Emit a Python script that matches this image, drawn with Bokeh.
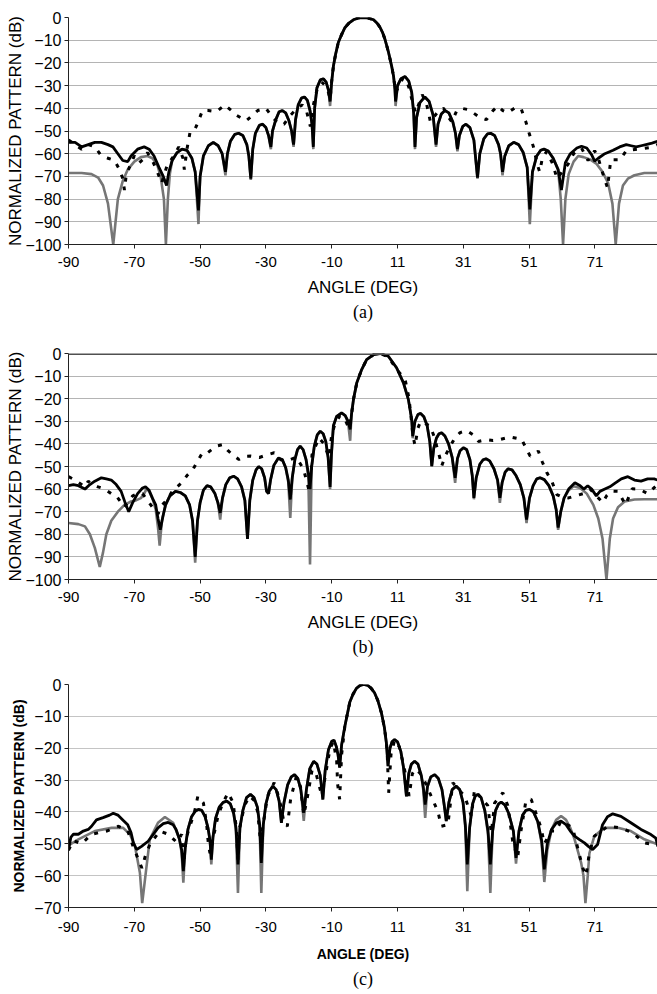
from bokeh.plotting import figure
from bokeh.models import Range1d, FixedTicker, Title, Span
from bokeh.layouts import column
from bokeh.embed import file_html
from bokeh.resources import INLINE

# ---------------- shared axis data ----------------
x_tick_pos = [-90, -70, -50, -30, -10, 10, 30, 50, 70]
x_tick_labels = ["-90", "-70", "-50", "-30", "-10", "11", "31", "51", "71"]
y_ticks_ab = [0, -10, -20, -30, -40, -50, -60, -70, -80, -90, -100]
y_ticks_c = [0, -10, -20, -30, -40, -50, -60, -70]
captions = ["(a)", "(b)", "(c)"]

# ---------------- panel (a) ----------------
a_black = [(-90,-55),(-88,-55),(-86,-57),(-84,-56),(-82,-55),(-80,-55),(-78,-56),(-76.5,-57),(-75,-60),(-73.5,-63),(-72,-63.5),(-71,-61),(-69,-58),(-67,-57),(-65.5,-58),(-64,-61),(-62.5,-66),(-61.2,-70),(-60.2,-74),
(-59.5,-68),(-58.5,-63),(-57,-59.5),(-55.5,-58),(-54,-58.5),(-52.5,-62),(-51.5,-68),(-50.5,-85),
(-50,-70),(-49,-61),(-47.5,-56.5),(-46,-55),(-44.5,-56.5),(-43.3,-60),(-42.3,-68),
(-41.7,-60),(-40.8,-54.5),(-39.5,-51.5),(-38.3,-51),(-37,-52),(-35.8,-56),(-35.2,-61),(-34.6,-71),
(-34,-58),(-33.2,-51),(-32,-47.5),(-31,-47),(-30,-48.5),(-29.2,-52),(-28.5,-57),
(-28,-50),(-27,-45),(-26,-41.5),(-25,-41),(-24,-42),(-23,-45.5),(-22.2,-50),(-21.6,-56),
(-21,-45),(-20.2,-38.5),(-19.2,-35.5),(-18.3,-35),(-17.4,-36.5),(-16.6,-41),(-16,-47),(-15.6,-57),
(-15.2,-40),(-14.5,-31),(-13.5,-27.5),(-12.5,-27),(-11.7,-28.5),(-11,-32),(-10.5,-37),
(-10,-28),(-9.5,-21.5),(-8.8,-16),(-8,-11),(-7,-7.5),(-6,-4.5),(-4.8,-2.5),(-3.4,-1),(-2,-0.2),(-0.5,0),(1,-0.2),(2.7,-1),(3.8,-2.5),(4.7,-4.4),(5.5,-6.8),(6.2,-9.7),(7.2,-15),(8.2,-21.4),(8.8,-26),(9.2,-31.6),(9.4,-37),
(10,-30),(11,-27),(12.3,-26),(13.4,-28),(14.3,-33),(14.9,-42),(15.3,-57),
(15.8,-44),(16.8,-37.5),(18.3,-35),(19.6,-37),(20.8,-43),(21.7,-56),
(22.3,-47),(23.3,-42.5),(24.4,-41),(25.6,-42),(26.8,-46),(27.6,-51),(28.2,-58),
(28.8,-52),(29.8,-48),(30.8,-47),(32,-48.5),(33.2,-54),(34.3,-70.5),
(35,-60),(36.2,-53.5),(37.3,-51.3),(38.3,-51),(39.5,-52),(40.7,-56),(41.3,-60),(41.9,-68),
(42.6,-61),(43.8,-56.5),(45.3,-55),(46.8,-56),(48.2,-59.5),(49.4,-66),(50.2,-84.5),
(51,-68),(52.3,-61),(53.5,-58.5),(54.5,-58),(55.8,-58.8),(57.3,-62),(58.8,-67),(59.8,-76),
(61,-64),(62.5,-60),(64.5,-57.5),(65.9,-56.7),(67.5,-57.5),(69,-60.5),(69.9,-63.3),(71,-62),(73,-60),(75.5,-58.5),(77.5,-57),(79.5,-56),(81,-56.5),(82.5,-57),(84,-56.5),(85.5,-56),(87,-55.5),(88,-55),(89,-54.5)]

a_gray = [(-90,-68.5),(-86,-68.5),(-83,-69),(-81,-70.5),(-79.5,-74),(-78,-82),(-76.4,-100),(-75,-80),(-73.5,-72),(-72,-67),(-70,-63.5),(-68,-61.5),(-66,-61),(-64.5,-62),(-63,-65),(-62,-70),(-61,-80),(-60.4,-100),(-59.8,-80),(-59.2,-69),
(-58.5,-63),(-57,-59.5),(-55.5,-58),(-54,-58.5),(-52.5,-62),(-51.5,-68),(-50.5,-91),
(-50,-70),(-49,-61),(-47.5,-56.5),(-46,-55),(-44.5,-56.5),(-43.3,-60),(-42.3,-69.5),
(-41.7,-60),(-40.8,-54.5),(-39.5,-51.5),(-38.3,-51),(-37,-52),(-35.8,-56),(-35.2,-61),(-34.6,-71.5),
(-34,-58),(-33.2,-51),(-32,-47.5),(-31,-47),(-30,-48.5),(-29.2,-52),(-28.5,-58),
(-28,-50),(-27,-45),(-26,-41.5),(-25,-41),(-24,-42),(-23,-45.5),(-22.2,-50),(-21.6,-57),
(-21,-45),(-20.2,-38.5),(-19.2,-35.5),(-18.3,-35),(-17.4,-36.5),(-16.6,-41),(-16,-47),(-15.6,-58),
(-15.2,-40),(-14.5,-31),(-13.5,-27.5),(-12.5,-27),(-11.7,-28.5),(-11,-32),(-10.5,-39),
(-10,-28),(-9.5,-21.5),(-8.8,-16),(-8,-11),(-7,-7.5),(-6,-4.5),(-4.8,-2.5),(-3.4,-1),(-2,-0.2),(-0.5,0),(1,-0.2),(2.7,-1),(3.8,-2.5),(4.7,-4.4),(5.5,-6.8),(6.2,-9.7),(7.2,-15),(8.2,-21.4),(8.8,-26),(9.2,-31.6),(9.4,-39),
(10,-30),(11,-27),(12.3,-26),(13.4,-28),(14.3,-33),(14.9,-42),(15.3,-58),
(15.8,-44),(16.8,-37.5),(18.3,-35),(19.6,-37),(20.8,-43),(21.7,-57),
(22.3,-47),(23.3,-42.5),(24.4,-41),(25.6,-42),(26.8,-46),(27.6,-51),(28.2,-59),
(28.8,-52),(29.8,-48),(30.8,-47),(32,-48.5),(33.2,-54),(34.3,-71),
(35,-60),(36.2,-53.5),(37.3,-51.3),(38.3,-51),(39.5,-52),(40.7,-56),(41.3,-60),(41.9,-69.5),
(42.6,-61),(43.8,-56.5),(45.3,-55),(46.8,-56),(48.2,-59.5),(49.4,-66),(50.2,-91),
(51,-68),(52.3,-61),(53.5,-58.5),(54.5,-58),(55.8,-58.8),(57.3,-62),(58.8,-67),(59.6,-80),(60.3,-100),(61,-80),(62,-69),(63.5,-63.5),(64.9,-61),(66.5,-61.5),(68.5,-62.5),(70.5,-64.5),(72.3,-68),(74,-73),(75.3,-82),(76.3,-100),(77.3,-82),(78.5,-74),(80,-71),(82,-69.5),(85,-68.5),(89,-68.5)]

a_dotted = [(-90,-54),(-88,-56),(-86,-58),(-84,-56),(-82,-57),(-80,-61),(-78,-62),(-76,-63),(-74.5,-67),(-73.5,-71),(-73,-76),(-72.5,-70),(-71.5,-66),(-70,-61),(-68.5,-64),(-67,-62),(-66,-59.5),(-64.5,-63),(-63,-68),(-61.7,-73),(-60,-65),(-58,-61),(-56.5,-57),(-55.2,-62),(-54.8,-67),(-54,-58),(-53,-50),(-51.5,-49),(-50.6,-46),(-49.3,-41),(-47.5,-41),(-45,-41.5),(-42.5,-38.5),(-40.5,-41),(-39,-43),(-36,-45.5),(-34,-43),(-32.5,-41),(-30,-40),(-28,-44),(-26,-47),(-24.5,-47),(-22.5,-43),(-20.5,-40),(-19,-38.5),(-17.7,-41),(-16.5,-48),(-15.5,-38),(-14.5,-32),(-13,-28.5),(-12,-30),(-11,-33),(-10.5,-36),
(-10,-28),(-9.5,-21.5),(-8.8,-16),(-8,-11),(-7,-7.5),(-6,-4.5),(-4.8,-2.5),(-3.4,-1),(-2,-0.2),(-0.5,0),(1,-0.2),(2.7,-1),(3.8,-2.5),(4.7,-4.4),(5.5,-6.8),(6.2,-9.7),(7.2,-15),(8.2,-21.4),(8.8,-26),(9.4,-33),
(10.5,-30),(11.5,-27),(12.5,-27),(13.5,-31),(14.5,-37),(15.5,-42),(16.5,-38),(17.5,-34),(18.8,-38),(20,-46),(21,-44),(22.5,-41),(24,-40),(25.5,-44),(26.5,-46),(28,-41),(29.5,-40),(31.2,-40.5),(33,-42),(35,-44),(37,-45),(39,-41),(40.5,-39),(42,-41),(43.5,-42),(45.5,-40),(47.5,-40),(49,-46),(50,-51),(51.3,-57),(52.5,-65),(53.2,-68),(54,-62),(55.3,-59),(57,-64),(58.5,-71),(60,-68),(61.8,-64.7),(63.5,-60),(65.9,-57.5),(67.9,-63),(69.9,-58.7),(71,-62),(72.3,-68.4),(73.8,-75),(74.8,-62.7),(77.5,-62.7),(79.5,-58.7),(83,-58),(87,-57.3),(89,-56)]

# ---------------- panel (b) ----------------
b_black = [(-90,-58.5),(-88.5,-58),(-87,-58.5),(-85,-60),(-83.5,-58),(-82,-56.5),(-80,-55),(-78.5,-55.5),(-77,-56),(-75.5,-58),(-74,-61),(-72.8,-66),(-71.7,-70),(-70.5,-66),(-69,-62),(-67.5,-59.5),(-66.6,-59),(-65.5,-60.5),(-64.5,-64),(-63.5,-67),(-62.8,-73),(-62.1,-78),
(-61.3,-72),(-60.5,-67),(-59.2,-63),(-57.5,-61),(-56,-61.5),(-54.5,-63),(-53.2,-67),(-52.3,-74),(-51.5,-90),
(-50.8,-74),(-50,-66),(-49,-60.5),(-47.9,-58.5),(-46.8,-59),(-45.5,-62),(-44.6,-66),(-43.9,-70.5),
(-43.2,-64),(-42.2,-58),(-41,-55),(-39.8,-54.3),(-38.6,-55.5),(-37.4,-59),(-36.4,-65),(-35.6,-82),
(-34.9,-65),(-34,-56),(-33,-51.5),(-32.2,-50),(-31.3,-51),(-30.4,-55),(-29.8,-61),(-29.2,-62),(-28.6,-56),(-27.6,-49.5),(-26.2,-46.2),(-25,-47),(-24,-50.5),(-23.2,-56),(-22.6,-64.6),
(-22,-55),(-21.2,-47),(-20.4,-42.5),(-19.6,-41),(-18.7,-42.5),(-17.8,-47),(-17.1,-53),(-16.6,-60),
(-16.1,-50),(-15.3,-41),(-14.4,-36),(-13.5,-34.4),(-12.6,-35.5),(-11.8,-39),(-11.1,-46),(-10.5,-59),
(-10.1,-45),(-9.5,-32),(-8.5,-27.8),(-7,-26.3),(-5.9,-27.5),(-5,-30),(-4.4,-33.6),
(-4,-27),(-3.4,-20.4),(-2.4,-13),(-0.9,-7.1),(0.6,-2.7),(2.7,-0.5),(4.7,0),(7.2,-1.2),(9.7,-6.3),(11.8,-13),(13.3,-20.4),(14.3,-29.2),(14.6,-36.6),
(15.3,-30),(16.2,-27),(17,-26.5),(18,-28),(19,-32),(19.8,-39),(20.4,-49.8),
(21,-42),(21.8,-37.5),(22.6,-35.5),(23.4,-35.1),(24.4,-36.5),(25.5,-40),(26.6,-46),(27.5,-55),
(28.2,-46.5),(29,-43),(30,-41.7),(31,-42.5),(32,-47),(32.7,-54),(33.2,-63.9),
(33.9,-55),(35,-49),(36,-47),(36.9,-46.6),(38,-47.5),(39.3,-51),(40.4,-56),(41.1,-63.9),
(41.8,-57),(42.7,-52.5),(43.6,-51),(44.8,-51.5),(46,-54),(47.3,-58),(48.4,-64),(49.2,-73.5),
(50.1,-64),(51.2,-58.5),(52.3,-55.5),(53.3,-55),(54.6,-55.8),(56,-58.5),(57.3,-63),(58.2,-69),(58.8,-77),
(59.6,-70),(60.6,-64),(62,-60),(63.9,-57.2),(65.5,-58.5),(66.6,-60),(67.8,-58.5),(69,-60),(70.4,-63),(71.5,-61),(73,-60),(74.5,-59),(76,-57.5),(78,-55.5),(80,-54.5),(82,-56),(84,-56.5),(86,-55.5),(88,-55.5),(89,-56)]

b_gray = [(-90,-75),(-87,-75.5),(-85,-76.5),(-83.5,-80),(-82,-86),(-80.5,-94.4),(-79.5,-88),(-78.5,-80),(-77,-74),(-75,-70),(-73,-67),(-71,-65.5),(-69.5,-65),(-68,-64),(-67,-62),(-66.3,-60),(-65.5,-61),(-64.5,-64),(-63.5,-69),(-62.8,-77),(-62.3,-85),
(-61.6,-74),(-60.5,-67),(-59.2,-63),(-57.5,-61),(-56,-61.5),(-54.5,-63),(-53.2,-67),(-52.3,-74),(-51.5,-92.6),
(-50.8,-74),(-50,-66),(-49,-60.5),(-47.9,-58.5),(-46.8,-59),(-45.5,-62),(-44.6,-66),(-43.9,-73.5),
(-43.2,-64),(-42.2,-58),(-41,-55),(-39.8,-54.3),(-38.6,-55.5),(-37.4,-59),(-36.4,-65),(-35.6,-82),
(-34.9,-65),(-34,-56),(-33,-51.5),(-32.2,-50),(-31.3,-51),(-30.4,-55),(-29.8,-61),(-29.2,-62),(-28.6,-56),(-27.6,-49.5),(-26.2,-46.2),(-25,-47),(-24,-50.5),(-23.2,-57),(-22.6,-72.8),
(-22,-55),(-21.2,-47),(-20.4,-42.5),(-19.6,-41),(-18.7,-42.5),(-17.8,-47),(-17.1,-55),(-16.6,-93.4),
(-16.1,-50),(-15.3,-41),(-14.4,-36),(-13.5,-34.4),(-12.6,-35.5),(-11.8,-39),(-11.1,-46),(-10.5,-60),
(-10.1,-45),(-9.5,-32),(-8.5,-27.8),(-7,-26.3),(-5.9,-27.5),(-5,-31),(-4.4,-38.6),
(-4,-27),(-3.4,-20.4),(-2.4,-13),(-0.9,-7.1),(0.6,-2.7),(2.7,-0.5),(4.7,0),(7.2,-1.2),(9.7,-6.3),(11.8,-13),(13.3,-20.4),(14.3,-29.2),(14.6,-37.5),
(15.3,-30),(16.2,-27),(17,-26.5),(18,-28),(19,-32),(19.8,-39),(20.4,-50),
(21,-42),(21.8,-37.5),(22.6,-35.5),(23.4,-35.1),(24.4,-36.5),(25.5,-40),(26.6,-46),(27.5,-57.2),
(28.2,-46.5),(29,-43),(30,-41.7),(31,-42.5),(32,-47),(32.7,-54),(33.2,-64.5),
(33.9,-55),(35,-49),(36,-47),(36.9,-46.6),(38,-47.5),(39.3,-51),(40.4,-56),(41.1,-66.1),
(41.8,-57),(42.7,-52.5),(43.6,-51),(44.8,-51.5),(46,-54),(47.3,-58),(48.4,-64),(49.2,-75),
(50.1,-64),(51.2,-58.5),(52.3,-55.5),(53.3,-55),(54.6,-55.8),(56,-58.5),(57.3,-63),(58.2,-69),(58.8,-78),
(59.6,-70),(60.6,-64),(62,-60.5),(63.5,-58.7),(65.5,-59.5),(67.5,-62),(69.5,-67),(71,-73),(72.3,-82),(73.5,-100),(74.5,-82),(75.5,-73),(77,-68),(79,-65.5),(82,-64.6),(85,-64.5),(89,-64.5)]

b_dotted = [(-90,-54.5),(-88,-56),(-86.5,-57.5),(-85,-59),(-84,-56.5),(-82.5,-58),(-81,-59),(-79,-60),(-77,-62),(-75.5,-63),(-74,-66),(-73,-68),(-72,-66),(-70.5,-63),(-69,-62),(-67.5,-62),(-66.5,-64),(-65,-67),(-63.5,-70),(-62.8,-71),(-61.5,-67),(-60,-64.6),(-58.5,-61),(-57,-59),(-55.5,-57),(-54,-54),(-52.3,-51.6),(-50.5,-46.9),(-49.3,-43.9),(-47.8,-44),(-46.5,-42.5),(-45.2,-41),(-43.2,-40.3),(-41.5,-43),(-40,-45),(-38.2,-46.9),(-36.5,-45.5),(-34.6,-45.4),(-32,-46),(-30,-45),(-27.5,-43.9),(-25.5,-47),(-23.5,-47.5),(-20.8,-45.9),(-18.6,-51),(-17,-60),(-16.2,-52),(-16,-44.8),(-13.9,-37.3),(-12.3,-40),(-10.9,-46),(-10,-36),(-9,-31),(-7.5,-27.5),(-6,-29),(-4.8,-33),
(-4,-27),(-3.4,-20.4),(-2.4,-13),(-0.9,-7.1),(0.6,-2.7),(2.7,-0.5),(4.7,0),(7.2,-1.5),(9.7,-7),(12.3,-11.5),(13.5,-20),(14.3,-31),(14.6,-35.6),(15.3,-40.8),(16.2,-33),(17,-30),(18.5,-31),(19.9,-32.1),(21.2,-37),(21.9,-41),(23,-47),(23.4,-49.8),(24.6,-45),(26,-41),(27.5,-37.2),(29,-35),(31,-34.1),(33,-36),(34.6,-38.9),(37.2,-38.1),(39,-38.5),(41.2,-38),(44.2,-36.9),(47.7,-38),(50.3,-45.4),(51.5,-44.5),(52.8,-43.2),(54,-48),(55.4,-52.8),(57,-57),(58.4,-62.4),(60,-63.5),(62,-63.9),(64,-63),(66.5,-62),(68.5,-60),(70.4,-63),(72.4,-66),(73.5,-63),(75,-60.9),(77,-61),(79.3,-66.9),(81.3,-59.9),(83.5,-60),(86,-62),(87.5,-60),(89,-58)]

# ---------------- panel (c) ----------------
c_black = [(-90,-52),(-89.3,-48),(-88.5,-47),(-87,-47),(-85.5,-46),(-84,-45.5),(-83,-44.5),(-81.5,-42.5),(-79.5,-41.8),(-77.5,-41),(-76.4,-40.4),(-75,-41),(-73.5,-42.5),(-72,-44),(-71,-46.5),(-70.3,-49.6),(-69.3,-51.8),(-67.8,-50.8),(-65.8,-49.2),(-64.3,-47.1),(-62.8,-45),(-61.2,-43.7),(-59.7,-43.3),(-58.2,-44),(-57.3,-45.5),(-56.3,-48.5),(-55.6,-52),(-55.1,-58.6),
(-54.5,-51),(-53.7,-45.5),(-52.6,-41.5),(-51.5,-39.8),(-50.5,-39.2),(-49.5,-39.5),(-48.5,-41.5),(-47.6,-45),(-47,-49),(-46.6,-55),
(-46.1,-48),(-45.3,-42),(-44.2,-38.5),(-43,-37),(-41.9,-36.6),(-40.8,-37.5),(-39.8,-40.5),(-39.1,-45),(-38.5,-56.5),
(-37.9,-45),(-37,-39.5),(-35.9,-35.5),(-34.7,-34.5),(-33.6,-35.5),(-32.6,-38.5),(-31.9,-44),(-31.4,-56),
(-30.8,-44),(-30,-37.5),(-29,-33.5),(-27.9,-31.9),(-26.9,-33),(-26,-36.5),(-25.3,-43.4),
(-24.5,-37),(-23.4,-31.5),(-22.3,-29),(-21.3,-28.3),(-20.3,-29.5),(-19.4,-33),(-18.5,-40.2),
(-17.7,-33),(-16.7,-26.5),(-15.5,-24.1),(-14.5,-25),(-13.5,-28.5),(-12.7,-36.1),
(-12,-27),(-11,-20.5),(-10,-17.8),(-9.3,-17.5),(-8.6,-19.5),(-8.1,-22),(-7.6,-26.1),
(-7,-19),(-6,-13),(-5,-8),(-4.5,-5.5),(-3.5,-3),(-2.5,-1.2),(-1.3,-0.2),(-0.3,0),(1,-0.3),(2,-1.2),(3,-2.6),(4,-5),(5.1,-8.9),(6,-13.5),(6.6,-18.3),(7.1,-25.6),
(7.7,-20),(8.3,-18),(9.1,-17.3),(10,-18),(11,-21),(11.8,-26),(12.7,-35.1),
(13.4,-28),(14.2,-25),(15.2,-24.1),(16.2,-25),(17.2,-28.5),(17.8,-32),(18.4,-37.7),
(19.1,-32),(20.1,-29),(21.3,-28.3),(22.4,-29.5),(23.5,-33),(24.2,-38),(24.8,-42.9),
(25.6,-37),(26.6,-33),(27.8,-31.9),(28.9,-33),(29.9,-37),(30.6,-44),(31.2,-56.5),
(31.9,-45),(32.8,-37.5),(33.6,-35),(34.4,-34.5),(35.4,-35.5),(36.5,-39.5),(37.5,-46),(38.2,-56.5),
(38.9,-46),(39.8,-39.5),(40.7,-37.5),(41.5,-36.9),(42.6,-37.8),(43.8,-40.5),(45.2,-46),(46,-54.4),
(46.9,-46),(48,-41),(49,-39.5),(50.1,-39.2),(51.3,-40),(52.6,-43),(53.8,-49),(54.6,-58),
(55.5,-50),(56.8,-45.5),(58.2,-43.5),(59.7,-42.9),(61.2,-44),(62.5,-46),(63.8,-47.6),(65.3,-48.7),(66.8,-49.7),(68,-50.8),(69.3,-51.8),(70.8,-50.2),(72.3,-44),(73.8,-41.5),(75.4,-40.6),(77.9,-41.4),(80.9,-43.4),(84,-45.5),(87,-47.1),(88.5,-48.2),(89.1,-50.8)]

c_gray = [(-90,-50.5),(-87,-48.6),(-82,-46),(-76.9,-45),(-73.4,-45),(-71.3,-47.1),(-69.8,-50.8),(-68.3,-59.1),(-67.6,-68.6),(-66.5,-59),(-65.3,-48.6),(-62.8,-43.4),(-60.7,-41.6),(-58.2,-43.4),(-56.3,-48.5),(-55.6,-53),(-55.1,-62.2),
(-54.5,-51),(-53.7,-45.5),(-52.6,-41.5),(-51.5,-39.8),(-50.5,-39.2),(-49.5,-39.5),(-48.5,-41.5),(-47.6,-45),(-47,-49),(-46.6,-56.5),
(-46.1,-48),(-45.3,-42),(-44.2,-38.5),(-43,-37),(-41.9,-36.6),(-40.8,-37.5),(-39.8,-40.5),(-39.1,-46),(-38.5,-65.4),
(-37.9,-45),(-37,-39.5),(-35.9,-35.5),(-34.7,-34.5),(-33.6,-35.5),(-32.6,-38.5),(-31.9,-45),(-31.4,-65.4),
(-30.8,-44),(-30,-37.5),(-29,-33.5),(-27.9,-31.9),(-26.9,-33),(-26,-36.5),(-25.3,-43.4),
(-24.5,-37),(-23.4,-31.5),(-22.3,-29),(-21.3,-28.3),(-20.3,-29.5),(-19.4,-33),(-18.5,-42.8),
(-17.7,-33),(-16.7,-26.5),(-15.5,-24.1),(-14.5,-25),(-13.5,-28.5),(-12.7,-36.1),
(-12,-27),(-11,-20.5),(-10,-17.8),(-9.3,-17.5),(-8.6,-19.5),(-8.1,-22),(-7.6,-26.1),
(-7,-19),(-6,-13),(-5,-8),(-4.5,-5.5),(-3.5,-3),(-2.5,-1.2),(-1.3,-0.2),(-0.3,0),(1,-0.3),(2,-1.2),(3,-2.6),(4,-5),(5.1,-8.9),(6,-13.5),(6.6,-18.3),(7.1,-25.6),
(7.7,-20),(8.3,-18),(9.1,-17.3),(10,-18),(11,-21),(11.8,-26),(12.7,-35.1),
(13.4,-28),(14.2,-25),(15.2,-24.1),(16.2,-25),(17.2,-28.5),(17.8,-33),(18.4,-41.9),
(19.1,-32),(20.1,-29),(21.3,-28.3),(22.4,-29.5),(23.5,-33),(24.2,-38),(24.8,-42.9),
(25.6,-37),(26.6,-33),(27.8,-31.9),(28.9,-33),(29.9,-37),(30.6,-45),(31.2,-64.9),
(31.9,-45),(32.8,-37.5),(33.6,-35),(34.4,-34.5),(35.4,-35.5),(36.5,-39.5),(37.5,-47),(38.2,-65.4),
(38.9,-46),(39.8,-39.5),(40.7,-37.5),(41.5,-36.9),(42.6,-37.8),(43.8,-40.5),(45.2,-46),(46,-56.2),
(46.9,-46),(48,-41),(49,-39.5),(50.1,-39.2),(51.3,-40),(52.6,-43),(53.8,-50),(54.6,-62),
(55.5,-52),(56.8,-45.5),(58.2,-42.5),(59.7,-41.3),(61.2,-42.5),(62.5,-45),(63.8,-48.6),(65.8,-56),(66.5,-60),(67.1,-68.6),(67.8,-60),(68.3,-53),(69.8,-47.6),(72.8,-45),(76.9,-45),(80.9,-46),(85,-48.6),(89.1,-50.2)]

c_dotted = [(-90,-52),(-88.5,-49),(-86,-50),(-83,-47),(-78.4,-46),(-74.8,-44.5),(-72,-46),(-70.3,-51),(-67.7,-57.6),(-66.7,-54),(-65.2,-50),(-62.2,-46),(-59.7,-47),(-57.1,-49.5),(-55.6,-47),(-55,-56),(-54.2,-48),(-51.7,-40),(-50.7,-35.1),(-49,-37.2),(-48,-44),(-47.5,-50),(-47,-53),(-46,-48),(-44.5,-41),(-43,-37),(-41.5,-34),(-40,-37),(-39,-45),(-38.5,-55),(-38,-45),(-36.5,-38),(-35,-35),(-33.5,-36.5),(-32.5,-40),(-31.6,-50),(-31,-45),(-29.5,-35),(-27.5,-30.8),(-26.5,-34),(-25.5,-38),(-24.5,-43.4),(-23.5,-44.5),(-22.5,-36),(-20.8,-29),(-19.5,-32),(-18.5,-41),(-17.5,-36),(-16,-27),(-15,-27),(-14,-31),(-13,-35),(-12,-29),(-10.5,-20),(-9.5,-18),(-8.5,-24),(-8.2,-31.4),(-7.6,-36),
(-7,-22),(-6,-13),(-5,-8),(-4.5,-5.5),(-3.5,-3),(-2.5,-1.2),(-1.3,-0.2),(-0.3,0),(1,-0.3),(2,-1.2),(3,-2.6),(4,-5),(5.1,-8.9),(6,-13.5),(6.8,-20),(7.3,-34),
(8,-22),(9.1,-17.5),(10.5,-19.5),(12,-26),(13,-31.4),(13.5,-35),(14.5,-28),(15.4,-26.5),(17,-28),(18.7,-31.4),(20.2,-35),(22.3,-40),(23.3,-44.5),(25.3,-44),(26.8,-30.8),(28.5,-33),(30.4,-35),(32.4,-41.3),(33.4,-33),(34.9,-35),(37.4,-38),(38.5,-46.6),(39.5,-37.2),(42,-34),(43.5,-38),(45,-49.2),(46.5,-54.4),(47.5,-46),(49,-36.6),(50.6,-36),(53.6,-45),(54.6,-50),(56.7,-46),(58.2,-46),(59.7,-42.8),(63.2,-45),(66.3,-57.6),(67.3,-60),(68.3,-52.8),(69.8,-47.6),(73.9,-44.5),(77.9,-45),(81.5,-46.6),(85,-49.7),(89,-50.5)]

AX_FONT = "Liberation Sans"
CAP_FONT = "Liberation Serif"


def make_panel(black, gray, dotted, y_min, y_ticks, caption, height, top, bottom,
               left, label_size, label_style, xlabel_size, tick_standoff,
               xlabel_standoff, cap_standoff, ylabel_standoff, top_line=None,
               grid_color="#b4b4b4"):
    p = figure(width=657, height=height, output_backend="svg",
               toolbar_location=None,
               x_range=Range1d(-90, 89), y_range=Range1d(y_min, 0),
               min_border_left=left, min_border_right=0,
               min_border_top=top, min_border_bottom=bottom)
    p.outline_line_color = None
    p.background_fill_color = "white"
    p.xgrid.grid_line_color = None
    p.ygrid.grid_line_color = grid_color
    p.ygrid.grid_line_width = 1
    p.ygrid.ticker = FixedTicker(ticks=y_ticks)

    p.xaxis.ticker = FixedTicker(ticks=x_tick_pos)
    p.xaxis.major_label_overrides = {pos: lab for pos, lab in zip(x_tick_pos, x_tick_labels)}
    p.yaxis.ticker = FixedTicker(ticks=y_ticks)
    for ax in (p.xaxis[0], p.yaxis[0]):
        ax.axis_line_color = "#222222"
        ax.axis_line_width = 1
        ax.major_tick_line_color = "#222222"
        ax.major_tick_out = 4
        ax.major_tick_in = 0
        ax.minor_tick_line_color = None
        ax.major_label_text_font = AX_FONT
        ax.major_label_text_color = "black"
        ax.axis_label_text_font = AX_FONT
        ax.axis_label_text_color = "black"
        ax.axis_label_text_font_style = label_style
    p.xaxis.major_label_text_font_size = "15px"
    p.yaxis.major_label_text_font_size = "16px"
    p.xaxis.major_label_standoff = tick_standoff
    p.yaxis.major_label_standoff = 3
    p.xaxis.axis_label = "ANGLE (DEG)"
    p.xaxis.axis_label_text_font_size = xlabel_size
    p.xaxis.axis_label_standoff = xlabel_standoff
    p.yaxis.axis_label = "NORMALIZED PATTERN (dB)"
    p.yaxis.axis_label_text_font_size = label_size
    p.yaxis.axis_label_standoff = ylabel_standoff

    if top_line:
        p.add_layout(Span(location=0, dimension="width", line_color=top_line, line_width=3))

    gx, gy = zip(*gray)
    bx, by = zip(*black)
    dx, dy = zip(*dotted)
    p.line(list(gx), list(gy), line_color="#767676", line_width=2.6)
    p.line(list(bx), list(by), line_color="black", line_width=2.8)
    p.line(list(dx), list(dy), line_color="black", line_width=3,
           line_dash="4 8", line_cap="butt")

    cap = Title(text=caption, align="center", text_font=CAP_FONT,
                text_font_size="18px", text_font_style="normal",
                text_color="black", standoff=cap_standoff)
    p.add_layout(cap, "below")
    return p


pa = make_panel(a_black, a_gray, a_dotted, -100, y_ticks_ab, captions[0],
                343, 17, 99, 68, "17px", "normal", "17px", 8, 8, 0, -3)
pb = make_panel(b_black, b_gray, b_dotted, -100, y_ticks_ab, captions[1],
                331, 10, 95, 68, "17px", "normal", "17px", 8, 8, 0, -3,
                top_line="#505050")
pc = make_panel(c_black, c_gray, c_dotted, -70, y_ticks_c, captions[2],
                317, 10, 84, 67, "14px", "bold", "14px", 10, 11, 5, 4,
                grid_color="#c4c4c4")

layout = column(pa, pb, pc, spacing=0)
open("out.html", "w").write(file_html(layout, INLINE))
